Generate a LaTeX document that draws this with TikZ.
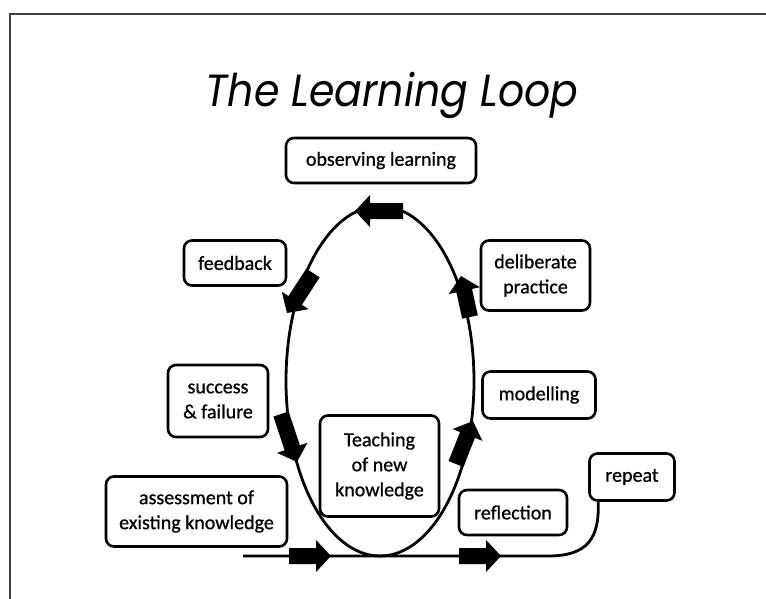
\documentclass[tikz,border=0pt]{standalone}
\usepackage{fontspec}
\setmainfont{Carlito}[FakeBold=0.8]
\newfontfamily\titlefont{Poppins}
\usetikzlibrary{calc}
\newcommand\fatarrow[2]{%
  \path ($(#2)!15pt!(#1)$) coordinate (fa-h);
  \fill[black] ($(#1)!8pt!90:(#2)$) -- ($(fa-h)!8pt!90:(#2)$) -- ($(fa-h)!16pt!90:(#2)$) -- (#2)
    -- ($(fa-h)!16pt!-90:(#2)$) -- ($(fa-h)!8pt!-90:(#2)$) -- ($(#1)!8pt!-90:(#2)$) -- cycle;}
\begin{document}
\begin{tikzpicture}[x=1pt,y=-1pt,
  box/.style={draw=black, line width=2.6pt, rounded corners=8pt, fill=white, align=center,
    font=\fontsize{20}{25}\selectfont, inner sep=0pt},
  loopline/.style={draw=black, line width=2.8pt},
  frameline/.style={draw=black!75, line width=1.8pt}]
\useasboundingbox (0,0) rectangle (766,599);
\fill[white] (0,0) rectangle (766,599);
\draw[frameline] (10,599) -- (10,14) -- (766,14);
\node[font=\titlefont\itshape\fontsize{41}{48}\selectfont, yscale=1.1] (title) at (392,95) {The Learning Loop};

% loop
\draw[loopline] (380,381) ellipse [x radius=94, y radius=175];
\coordinate (lstart) at (243,556);
\coordinate (lbend) at (548,556);

% boxes
\node[box, minimum width=190, minimum height=45] (obs) at (381,160.5) {observing learning};
\node[box, minimum width=102, minimum height=45] (feed) at (235,263) {feedback};
\node[box, minimum width=109, minimum height=70] (delib) at (535.5,275.5) {deliberate\\practice};
\node[box, minimum width=100, minimum height=72] (succ) at (218,401) {success\\\& failure};
\node[box, minimum width=113, minimum height=47] (model) at (539,395) {modelling};
\node[box, minimum width=119, minimum height=101] (teach) at (379.5,466) {Teaching\\of new\\knowledge};
\node[box, minimum width=181, minimum height=70] (assess) at (196.5,511.5) {assessment of\\existing knowledge};
\node[box, minimum width=108, minimum height=45] (refl) at (513,512.5) {reflection};
\node[box, minimum width=85, minimum height=47] (rep) at (632,477) {repeat};

\coordinate (lend) at ($(rep.south west)+(10,0)$);
\draw[loopline] (lstart) -- (lbend) .. controls (588,556) and (599.5,538) .. (lend);

% arrows
\coordinate (a1t) at (403,211); \coordinate (a1h) at (355,211);
\coordinate (a2t) at (313,273); \coordinate (a2h) at (287,313);
\coordinate (a3t) at (470,317); \coordinate (a3h) at (461,276);
\coordinate (a4t) at (281,414); \coordinate (a4h) at (297,462);
\coordinate (a5t) at (456,464); \coordinate (a5h) at (473,421);
\coordinate (a6t) at (289,556); \coordinate (a6h) at (331,556);
\coordinate (a7t) at (459,556); \coordinate (a7h) at (501,556);
\fatarrow{a1t}{a1h}
\fatarrow{a2t}{a2h}
\fatarrow{a3t}{a3h}
\fatarrow{a4t}{a4h}
\fatarrow{a5t}{a5h}
\fatarrow{a6t}{a6h}
\fatarrow{a7t}{a7h}
\end{tikzpicture}
\end{document}
